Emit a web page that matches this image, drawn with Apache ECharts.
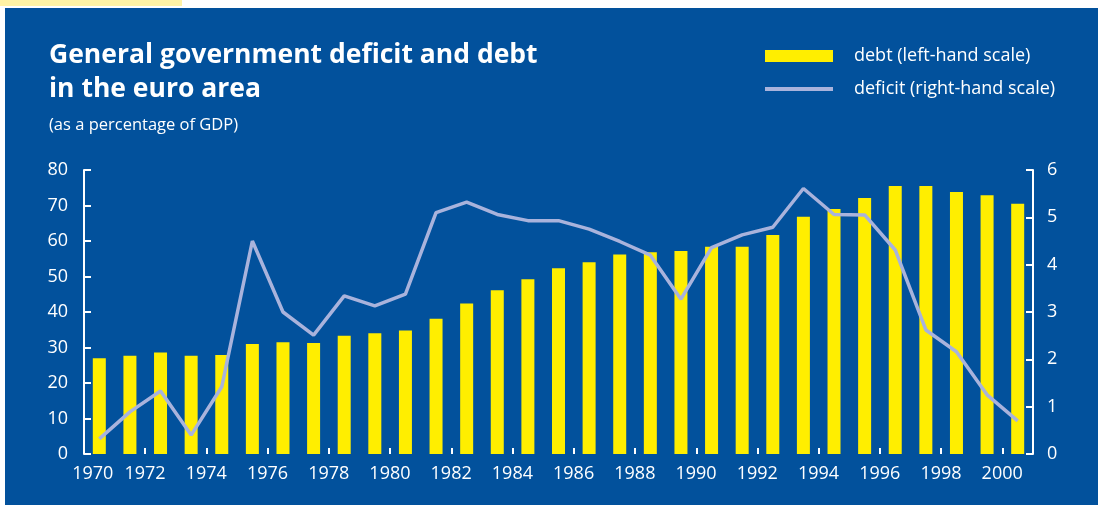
<!DOCTYPE html>
<html>
<head>
<meta charset="utf-8">
<script src="https://cdn.jsdelivr.net/npm/echarts@6/dist/echarts.min.js"></script>
<style>
  html, body { margin: 0; padding: 0; background: #ffffff; }
  #chart { width: 1103px; height: 508px; }
</style>
</head>
<body>
<div id="chart"></div>
<script>
// Euro area general government debt and deficit, % of GDP
const years = ['1970','1971','1972','1973','1974','1975','1976','1977','1978','1979',
               '1980','1981','1982','1983','1984','1985','1986','1987','1988','1989',
               '1990','1991','1992','1993','1994','1995','1996','1997','1998','1999','2000'];
const debt = [27.0, 27.7, 28.6, 27.7, 27.9, 31.0, 31.5, 31.3, 33.3, 34.0,
              34.8, 38.1, 42.4, 46.1, 49.2, 52.3, 54.0, 56.2, 56.8, 57.2,
              58.4, 58.4, 61.7, 66.8, 69.0, 72.1, 75.5, 75.5, 73.8, 72.9, 70.5];
const deficit = [0.32, 0.89, 1.33, 0.40, 1.42, 4.50, 3.00, 2.51, 3.34, 3.13,
                 3.38, 5.10, 5.32, 5.06, 4.93, 4.93, 4.75, 4.49, 4.20, 3.27,
                 4.36, 4.63, 4.79, 5.61, 5.06, 5.05, 4.31, 2.62, 2.16, 1.25, 0.70];
const leftTicks = { min: 0, max: 80, interval: 10 };
const rightTicks = { min: 0, max: 6, interval: 1 };

const BLUE = '#02519c';
const YELLOW = '#ffee00';
const LILAC = '#a9b3dc';
const FONT = 'Open Sans';
const AXIS_FS = 18;

const chart = echarts.init(document.getElementById('chart'));
chart.setOption({
  backgroundColor: '#ffffff',
  animation: false,
  textStyle: { fontFamily: FONT },
  graphic: [
    { type: 'rect', z: -10, silent: true, shape: { x: 0, y: 0, width: 182, height: 6 }, style: { fill: '#fff3a6' } },
    { type: 'rect', z: -10, silent: true, shape: { x: 5, y: 8, width: 1093, height: 497 }, style: { fill: BLUE } }
  ],
  title: [
    {
      text: 'General government deficit and debt\nin the euro area',
      left: 49, top: 38, padding: 0,
      textStyle: { color: '#ffffff', fontFamily: FONT, fontWeight: 'bold', fontSize: 26.5, lineHeight: 34 }
    },
    {
      text: '(as a percentage of GDP)',
      left: 49, top: 115, padding: 0,
      textStyle: { color: '#ffffff', fontFamily: FONT, fontWeight: 'normal', fontSize: 16.5, lineHeight: 20 }
    }
  ],
  legend: [
    {
      data: ['debt (left-hand scale)'],
      left: 765, top: 45, padding: 0, icon: 'rect',
      itemWidth: 68, itemHeight: 12, itemGap: 0,
      textStyle: { color: '#ffffff', fontFamily: FONT, fontSize: 18, lineHeight: 22, padding: [0, 0, 0, 16] }
    },
    {
      data: ['deficit (right-hand scale)'],
      left: 765, top: 78, padding: 0, icon: 'rect',
      itemWidth: 68, itemHeight: 4, itemGap: 0,
      textStyle: { color: '#ffffff', fontFamily: FONT, fontSize: 18, lineHeight: 22, padding: [0, 0, 0, 16] }
    }
  ],
  grid: { left: 84, right: 70, top: 170, bottom: 54, containLabel: false },
  xAxis: {
    type: 'category',
    data: years,
    boundaryGap: true,
    axisLine: { show: false },
    axisTick: {
      show: true, inside: true, length: 6,
      interval: (i) => i % 2 === 0 && i > 0,
      lineStyle: { color: '#ffffff', width: 2 }
    },
    axisLabel: {
      interval: (i) => i % 2 === 0,
      margin: 11,
      color: '#ffffff', fontSize: AXIS_FS,
      formatter: (v, i) => (i === 0 ? '{f|' + v + '}' : '{n|' + v + '}'),
      rich: {
        f: { color: '#ffffff', fontSize: AXIS_FS, fontFamily: FONT, padding: [0, 13, 0, 0] },
        n: { color: '#ffffff', fontSize: AXIS_FS, fontFamily: FONT, padding: [0, 31, 0, 0] }
      }
    },
    splitLine: { show: false }
  },
  yAxis: [
    {
      type: 'value', position: 'left',
      min: leftTicks.min, max: leftTicks.max, interval: leftTicks.interval,
      axisLine: { show: true, lineStyle: { color: '#ffffff', width: 2 } },
      axisTick: { show: true, inside: true, length: 7, lineStyle: { color: '#ffffff', width: 2 } },
      axisLabel: { color: '#ffffff', fontFamily: FONT, fontSize: AXIS_FS, margin: 16 },
      splitLine: { show: false }
    },
    {
      type: 'value', position: 'right',
      min: rightTicks.min, max: rightTicks.max, interval: rightTicks.interval,
      axisLine: { show: true, lineStyle: { color: '#ffffff', width: 2 } },
      axisTick: { show: true, inside: true, length: 7, lineStyle: { color: '#ffffff', width: 2 } },
      axisLabel: { color: '#ffffff', fontFamily: FONT, fontSize: AXIS_FS, margin: 14 },
      splitLine: { show: false }
    }
  ],
  series: [
    {
      name: 'debt (left-hand scale)',
      type: 'bar',
      yAxisIndex: 0,
      data: debt,
      barWidth: 13,
      itemStyle: { color: YELLOW },
      z: 2
    },
    {
      name: 'deficit (right-hand scale)',
      type: 'line',
      yAxisIndex: 1,
      data: deficit,
      showSymbol: false,
      symbol: 'none',
      color: LILAC,
      lineStyle: { color: LILAC, width: 3.5 },
      itemStyle: { color: LILAC },
      z: 3
    }
  ]
});
</script>
</body>
</html>
